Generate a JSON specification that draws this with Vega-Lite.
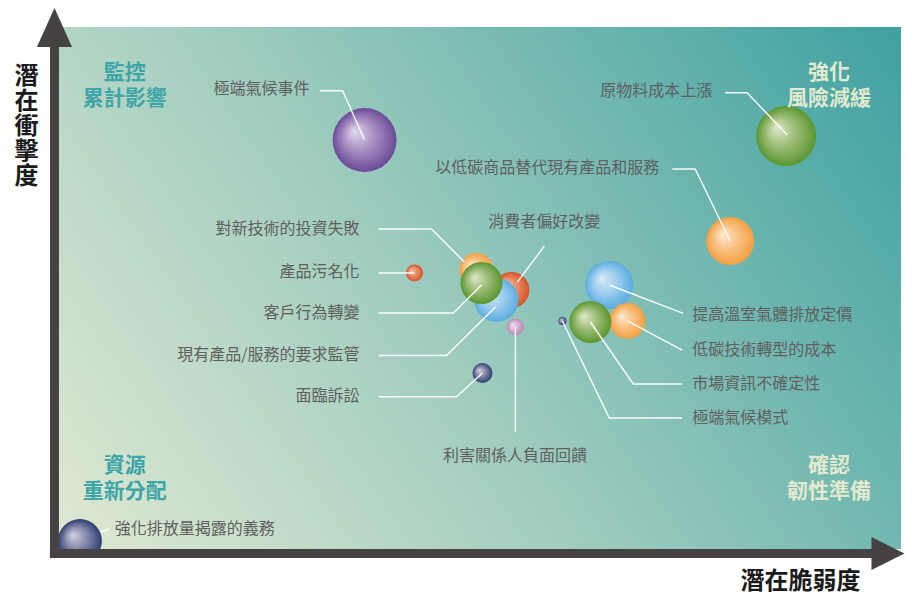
{
  "$schema": "https://vega.github.io/schema/vega-lite/v6.json",
  "width": 905,
  "height": 595,
  "autosize": {"type": "fit", "contains": "padding"},
  "padding": 0,
  "background": "white",
  "config": {"view": {"stroke": null}, "font": "Noto Sans CJK TC", "text": {"font": "Noto Sans CJK TC"}},
  "datasets": {
    "one": [{}],
    "bubbles": [
      {"name": "強化排放量揭露的義務", "x": 2.49, "y": 1.53, "r": 22, "c": "navy", "z": 1},
      {"name": "極端氣候事件", "x": 36.30, "y": 78.35, "r": 32, "c": "purple", "z": 2},
      {"name": "原物料成本上漲", "x": 86.36, "y": 79.12, "r": 30, "c": "green", "z": 3},
      {"name": "以低碳商品替代現有產品和服務", "x": 79.72, "y": 59.00, "r": 24, "c": "orange", "z": 4},
      {"name": "提高溫室氣體排放定價", "x": 65.36, "y": 50.57, "r": 24, "c": "blue", "z": 5},
      {"name": "低碳技術轉型的成本", "x": 67.50, "y": 43.68, "r": 18, "c": "orange", "z": 6},
      {"name": "市場資訊不確定性", "x": 63.11, "y": 43.49, "r": 21, "c": "green", "z": 7},
      {"name": "極端氣候模式", "x": 59.79, "y": 43.68, "r": 4, "c": "navy", "z": 8},
      {"name": "對新技術的投資失敗", "x": 49.58, "y": 53.45, "r": 17, "c": "orange", "z": 9},
      {"name": "產品污名化", "x": 42.23, "y": 52.87, "r": 8.5, "c": "red", "z": 10},
      {"name": "消費者偏好改變", "x": 53.74, "y": 49.62, "r": 18, "c": "red", "z": 11},
      {"name": "現有產品/服務的要求監管", "x": 51.96, "y": 47.70, "r": 22, "c": "blue", "z": 12},
      {"name": "客戶行為轉變", "x": 50.18, "y": 50.96, "r": 21, "c": "green", "z": 13},
      {"name": "利害關係人負面回饋", "x": 54.21, "y": 42.53, "r": 8.5, "c": "pink", "z": 14},
      {"name": "面臨訴訟", "x": 50.30, "y": 33.72, "r": 10, "c": "navy", "z": 15}
    ],
    "leaders": [
      {"id": 1, "s": 1, "x": 30.96, "y": 87.80}, {"id": 1, "s": 2, "x": 33.69, "y": 87.80}, {"id": 1, "s": 3, "x": 36.30, "y": 78.35},
      {"id": 2, "s": 1, "x": 79.12, "y": 87.41}, {"id": 2, "s": 2, "x": 81.73, "y": 87.41}, {"id": 2, "s": 3, "x": 86.50, "y": 79.30},
      {"id": 3, "s": 1, "x": 72.84, "y": 72.80}, {"id": 3, "s": 2, "x": 75.56, "y": 72.80}, {"id": 3, "s": 3, "x": 79.72, "y": 59.00},
      {"id": 4, "s": 1, "x": 57.65, "y": 58.05}, {"id": 4, "s": 2, "x": 54.45, "y": 51.15},
      {"id": 5, "s": 1, "x": 37.96, "y": 61.30}, {"id": 5, "s": 2, "x": 44.25, "y": 61.30}, {"id": 5, "s": 3, "x": 48.16, "y": 54.98},
      {"id": 6, "s": 1, "x": 37.96, "y": 52.87}, {"id": 6, "s": 2, "x": 42.23, "y": 52.87},
      {"id": 7, "s": 1, "x": 37.96, "y": 45.21}, {"id": 7, "s": 2, "x": 46.86, "y": 45.21}, {"id": 7, "s": 3, "x": 50.18, "y": 50.57},
      {"id": 8, "s": 1, "x": 37.96, "y": 37.07}, {"id": 8, "s": 2, "x": 46.03, "y": 37.07}, {"id": 8, "s": 3, "x": 51.84, "y": 46.36},
      {"id": 9, "s": 1, "x": 37.96, "y": 29.18}, {"id": 9, "s": 2, "x": 47.21, "y": 29.18}, {"id": 9, "s": 3, "x": 50.30, "y": 33.72},
      {"id": 10, "s": 1, "x": 54.21, "y": 42.53}, {"id": 10, "s": 2, "x": 54.21, "y": 22.41},
      {"id": 11, "s": 1, "x": 65.36, "y": 50.57}, {"id": 11, "s": 2, "x": 74.14, "y": 45.15},
      {"id": 12, "s": 1, "x": 67.50, "y": 43.68}, {"id": 12, "s": 2, "x": 74.02, "y": 38.12},
      {"id": 13, "s": 1, "x": 63.11, "y": 43.49}, {"id": 13, "s": 2, "x": 68.21, "y": 31.61}, {"id": 13, "s": 3, "x": 74.02, "y": 31.61},
      {"id": 14, "s": 1, "x": 59.79, "y": 43.68}, {"id": 14, "s": 2, "x": 65.36, "y": 25.10}, {"id": 14, "s": 3, "x": 74.02, "y": 25.10},
      {"id": 15, "s": 1, "x": 4.98, "y": 3.26}, {"id": 15, "s": 2, "x": 5.93, "y": 3.83}
    ],
    "labels": [
      {"text": "極端氣候事件", "x": 29.77, "y": 88.12, "a": "right"},
      {"text": "原物料成本上漲", "x": 77.58, "y": 87.74, "a": "right"},
      {"text": "以低碳商品替代現有產品和服務", "x": 71.29, "y": 72.99, "a": "right"},
      {"text": "對新技術的投資失敗", "x": 35.71, "y": 61.30, "a": "right"},
      {"text": "產品污名化", "x": 35.71, "y": 53.07, "a": "right"},
      {"text": "客戶行為轉變", "x": 35.71, "y": 45.21, "a": "right"},
      {"text": "現有產品/服務的要求監管", "x": 35.71, "y": 37.16, "a": "right"},
      {"text": "面臨訴訟", "x": 35.71, "y": 29.31, "a": "right"},
      {"text": "消費者偏好改變", "x": 57.65, "y": 62.64, "a": "center"},
      {"text": "利害關係人負面回饋", "x": 54.15, "y": 17.82, "a": "center"},
      {"text": "提高溫室氣體排放定價", "x": 75.21, "y": 44.83, "a": "left"},
      {"text": "低碳技術轉型的成本", "x": 75.21, "y": 38.12, "a": "left"},
      {"text": "市場資訊不確定性", "x": 75.21, "y": 31.61, "a": "left"},
      {"text": "極端氣候模式", "x": 75.21, "y": 25.10, "a": "left"},
      {"text": "強化排放量揭露的義務", "x": 6.64, "y": 3.83, "a": "left"}
    ],
    "quadrants": [
      {"text": "監控", "x": 7.83, "y": 91.25, "tone": "teal"},
      {"text": "累計影響", "x": 7.83, "y": 86.21, "tone": "teal"},
      {"text": "資源", "x": 7.83, "y": 15.96, "tone": "teal"},
      {"text": "重新分配", "x": 7.83, "y": 10.92, "tone": "teal"},
      {"text": "強化", "x": 91.46, "y": 91.25, "tone": "cream"},
      {"text": "風險減緩", "x": 91.46, "y": 86.21, "tone": "cream"},
      {"text": "確認", "x": 91.46, "y": 15.96, "tone": "cream"},
      {"text": "韌性準備", "x": 91.46, "y": 10.92, "tone": "cream"}
    ],
    "ytitle": [
      {"ch": "潛", "x": -3.86, "y": 90.48},
      {"ch": "在", "x": -3.86, "y": 85.67},
      {"ch": "衝", "x": -3.86, "y": 80.86},
      {"ch": "擊", "x": -3.86, "y": 76.06},
      {"ch": "度", "x": -3.86, "y": 71.25}
    ]
  },
  "layer": [
    {
      "data": {"name": "one"},
      "mark": {"type": "rect", "fill": {"gradient": "linear", "x1": 0, "y1": 1, "x2": 1.207, "y2": 0.483,
        "stops": [{"offset": 0, "color": "#e0e9d2"}, {"offset": 0.45, "color": "#9dcbbe"}, {"offset": 1, "color": "#3fa1a1"}]}},
      "encoding": {
        "x": {"datum": 0, "type": "quantitative", "scale": {"domain": [-7.0, 100.36], "nice": false, "zero": false}, "axis": null},
        "x2": {"datum": 100},
        "y": {"datum": 0, "type": "quantitative", "scale": {"domain": [-8.81, 105.17], "nice": false, "zero": false}, "axis": null},
        "y2": {"datum": 100}
      }
    },
    {
      "data": {"name": "bubbles"},
      "mark": {"type": "circle", "opacity": 1, "strokeWidth": 0},
      "encoding": {
        "x": {"field": "x", "type": "quantitative", "scale": {"domain": [-7.0, 100.36], "nice": false, "zero": false}, "axis": null},
        "y": {"field": "y", "type": "quantitative", "scale": {"domain": [-8.81, 105.17], "nice": false, "zero": false}, "axis": null},
        "size": {"field": "r", "type": "quantitative", "scale": {"type": "pow", "exponent": 2, "domain": [0, 32], "range": [0, 4096]}, "legend": null},
        "order": {"field": "z", "type": "quantitative"},
        "fill": {
          "condition": [
            {"test": "datum.c === 'purple'", "value": {"gradient": "radial", "x1": 0.33, "y1": 0.36, "r1": 0, "x2": 0.5, "y2": 0.5, "r2": 0.5, "stops": [{"offset": 0, "color": "#e2dbeb"}, {"offset": 0.5, "color": "#a68cc2"}, {"offset": 1, "color": "#6b4a97"}]}},
            {"test": "datum.c === 'green'", "value": {"gradient": "radial", "x1": 0.33, "y1": 0.36, "r1": 0, "x2": 0.5, "y2": 0.5, "r2": 0.5, "stops": [{"offset": 0, "color": "#e0e9cc"}, {"offset": 0.5, "color": "#9dbd78"}, {"offset": 1, "color": "#5b9530"}]}},
            {"test": "datum.c === 'orange'", "value": {"gradient": "radial", "x1": 0.33, "y1": 0.36, "r1": 0, "x2": 0.5, "y2": 0.5, "r2": 0.5, "stops": [{"offset": 0, "color": "#fdebd3"}, {"offset": 0.5, "color": "#f9c284"}, {"offset": 1, "color": "#f3a043"}]}},
            {"test": "datum.c === 'blue'", "value": {"gradient": "radial", "x1": 0.33, "y1": 0.36, "r1": 0, "x2": 0.5, "y2": 0.5, "r2": 0.5, "stops": [{"offset": 0, "color": "#d9ebf6"}, {"offset": 0.5, "color": "#9dcdee"}, {"offset": 1, "color": "#5aade0"}]}},
            {"test": "datum.c === 'red'", "value": {"gradient": "radial", "x1": 0.33, "y1": 0.36, "r1": 0, "x2": 0.5, "y2": 0.5, "r2": 0.5, "stops": [{"offset": 0, "color": "#f6c7b4"}, {"offset": 0.5, "color": "#e88c66"}, {"offset": 1, "color": "#d35428"}]}},
            {"test": "datum.c === 'pink'", "value": {"gradient": "radial", "x1": 0.33, "y1": 0.36, "r1": 0, "x2": 0.5, "y2": 0.5, "r2": 0.5, "stops": [{"offset": 0, "color": "#f2e4f0"}, {"offset": 0.5, "color": "#d6b1d3"}, {"offset": 1, "color": "#b98ab6"}]}}
          ],
          "value": {"gradient": "radial", "x1": 0.33, "y1": 0.36, "r1": 0, "x2": 0.5, "y2": 0.5, "r2": 0.5, "stops": [{"offset": 0, "color": "#d2d3e2"}, {"offset": 0.5, "color": "#8588aa"}, {"offset": 1, "color": "#2e3e70"}]}
        }
      }
    },
    {
      "data": {"name": "leaders"},
      "mark": {"type": "line", "stroke": "#ffffff", "strokeWidth": 1.4, "opacity": 0.95},
      "encoding": {
        "x": {"field": "x", "type": "quantitative", "scale": {"domain": [-7.0, 100.36], "nice": false, "zero": false}, "axis": null},
        "y": {"field": "y", "type": "quantitative", "scale": {"domain": [-8.81, 105.17], "nice": false, "zero": false}, "axis": null},
        "detail": {"field": "id", "type": "nominal"},
        "order": {"field": "s", "type": "quantitative"}
      }
    },
    {
      "data": {"name": "labels"},
      "transform": [{"filter": "datum.a === 'right'"}],
      "mark": {"type": "text", "align": "right", "baseline": "middle", "fontSize": 16, "color": "#606060"},
      "encoding": {
        "x": {"field": "x", "type": "quantitative", "scale": {"domain": [-7.0, 100.36], "nice": false, "zero": false}, "axis": null},
        "y": {"field": "y", "type": "quantitative", "scale": {"domain": [-8.81, 105.17], "nice": false, "zero": false}, "axis": null},
        "text": {"field": "text"}
      }
    },
    {
      "data": {"name": "labels"},
      "transform": [{"filter": "datum.a === 'left'"}],
      "mark": {"type": "text", "align": "left", "baseline": "middle", "fontSize": 16, "color": "#606060"},
      "encoding": {
        "x": {"field": "x", "type": "quantitative", "scale": {"domain": [-7.0, 100.36], "nice": false, "zero": false}, "axis": null},
        "y": {"field": "y", "type": "quantitative", "scale": {"domain": [-8.81, 105.17], "nice": false, "zero": false}, "axis": null},
        "text": {"field": "text"}
      }
    },
    {
      "data": {"name": "labels"},
      "transform": [{"filter": "datum.a === 'center'"}],
      "mark": {"type": "text", "align": "center", "baseline": "middle", "fontSize": 16, "color": "#606060"},
      "encoding": {
        "x": {"field": "x", "type": "quantitative", "scale": {"domain": [-7.0, 100.36], "nice": false, "zero": false}, "axis": null},
        "y": {"field": "y", "type": "quantitative", "scale": {"domain": [-8.81, 105.17], "nice": false, "zero": false}, "axis": null},
        "text": {"field": "text"}
      }
    },
    {
      "data": {"name": "quadrants"},
      "mark": {"type": "text", "align": "center", "baseline": "middle", "fontSize": 21, "fontWeight": "bold"},
      "encoding": {
        "x": {"field": "x", "type": "quantitative", "scale": {"domain": [-7.0, 100.36], "nice": false, "zero": false}, "axis": null},
        "y": {"field": "y", "type": "quantitative", "scale": {"domain": [-8.81, 105.17], "nice": false, "zero": false}, "axis": null},
        "text": {"field": "text"},
        "fill": {"field": "tone", "type": "nominal", "scale": {"domain": ["teal", "cream"], "range": ["#3ea6a8", "#e2e9cf"]}, "legend": null}
      }
    },
    {
      "data": {"name": "one"},
      "mark": {"type": "rect", "fill": "white"},
      "encoding": {
        "x": {"datum": -2, "type": "quantitative", "scale": {"domain": [-7.0, 100.36], "nice": false, "zero": false}, "axis": null},
        "x2": {"datum": 12},
        "y": {"datum": -8.81, "type": "quantitative", "scale": {"domain": [-8.81, 105.17], "nice": false, "zero": false}, "axis": null},
        "y2": {"datum": -0.86}
      }
    },
    {
      "data": {"name": "one"},
      "mark": {"type": "rule", "stroke": "#474242", "strokeWidth": 9, "strokeCap": "butt"},
      "encoding": {
        "x": {"datum": -0.53, "type": "quantitative", "scale": {"domain": [-7.0, 100.36], "nice": false, "zero": false}, "axis": null},
        "y": {"datum": -1.72, "type": "quantitative", "scale": {"domain": [-8.81, 105.17], "nice": false, "zero": false}, "axis": null},
        "y2": {"datum": 96.36}
      }
    },
    {
      "data": {"name": "one"},
      "mark": {"type": "rule", "stroke": "#474242", "strokeWidth": 9, "strokeCap": "butt"},
      "encoding": {
        "x": {"datum": -1.07, "type": "quantitative", "scale": {"domain": [-7.0, 100.36], "nice": false, "zero": false}, "axis": null},
        "x2": {"datum": 96.92},
        "y": {"datum": -0.86, "type": "quantitative", "scale": {"domain": [-8.81, 105.17], "nice": false, "zero": false}, "axis": null}
      }
    },
    {
      "data": {"name": "one"},
      "mark": {"type": "point", "shape": "M-0.9,1L0,-1L0.9,1Z", "size": 1521, "filled": true, "fill": "#474242", "opacity": 1, "strokeWidth": 0},
      "encoding": {
        "x": {"datum": -0.53, "type": "quantitative", "scale": {"domain": [-7.0, 100.36], "nice": false, "zero": false}, "axis": null},
        "y": {"datum": 99.9, "type": "quantitative", "scale": {"domain": [-8.81, 105.17], "nice": false, "zero": false}, "axis": null}
      }
    },
    {
      "data": {"name": "one"},
      "mark": {"type": "point", "shape": "M-1,-1L1,0L-1,1Z", "size": 1089, "filled": true, "fill": "#474242", "opacity": 1, "strokeWidth": 0},
      "encoding": {
        "x": {"datum": 98.46, "type": "quantitative", "scale": {"domain": [-7.0, 100.36], "nice": false, "zero": false}, "axis": null},
        "y": {"datum": -0.86, "type": "quantitative", "scale": {"domain": [-8.81, 105.17], "nice": false, "zero": false}, "axis": null}
      }
    },
    {
      "data": {"name": "ytitle"},
      "mark": {"type": "text", "align": "center", "baseline": "middle", "fontSize": 24, "fontWeight": "bold", "color": "#1a1a1a"},
      "encoding": {
        "x": {"field": "x", "type": "quantitative", "scale": {"domain": [-7.0, 100.36], "nice": false, "zero": false}, "axis": null},
        "y": {"field": "y", "type": "quantitative", "scale": {"domain": [-8.81, 105.17], "nice": false, "zero": false}, "axis": null},
        "text": {"field": "ch"}
      }
    },
    {
      "data": {"name": "one"},
      "mark": {"type": "text", "text": "潛在脆弱度", "align": "center", "baseline": "middle", "fontSize": 24, "fontWeight": "bold", "color": "#1a1a1a"},
      "encoding": {
        "x": {"datum": 88.08, "type": "quantitative", "scale": {"domain": [-7.0, 100.36], "nice": false, "zero": false}, "axis": null},
        "y": {"datum": -6.26, "type": "quantitative", "scale": {"domain": [-8.81, 105.17], "nice": false, "zero": false}, "axis": null}
      }
    }
  ]
}
